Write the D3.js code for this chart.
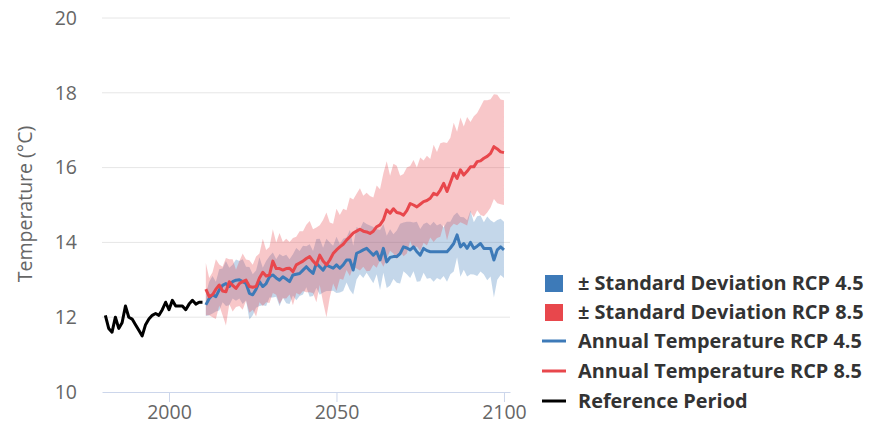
<!DOCTYPE html>
<html><head><meta charset="utf-8">
<script src="https://cdn.jsdelivr.net/npm/d3@7"></script>
<style>body{margin:0;background:#fff;}svg{display:block;font-family:"Open Sans",sans-serif;}</style>
</head><body><svg id="c" width="879" height="424"></svg>
<script>
const refStart = 1981;
const refTemps = [12.05,11.7,11.6,12.0,11.7,11.85,12.3,12.0,11.95,11.8,11.65,11.5,11.8,11.95,12.05,12.1,12.05,12.2,12.4,12.2,12.45,12.3,12.3,12.3,12.2,12.35,12.45,12.35,12.4,12.4];
const projStart = 2011;
const rcp85 = [12.75,12.55,12.6,12.75,12.86,12.7,12.68,12.95,12.85,12.77,
12.9,12.95,12.99,12.82,12.8,12.82,13.05,13.2,13.1,13.13,
13.5,13.3,13.3,13.26,13.3,13.31,13.22,13.4,13.45,13.5,
13.57,13.62,13.5,13.4,13.66,13.5,13.4,13.53,13.7,13.8,
13.88,13.95,14.06,14.15,14.25,14.3,14.35,14.3,14.28,14.24,
14.3,14.42,14.47,14.6,14.87,14.78,14.9,14.8,14.78,14.73,
14.85,15.04,15.0,14.95,15.02,15.09,15.12,15.18,15.31,15.27,
15.4,15.58,15.36,15.6,15.85,15.71,15.94,15.8,15.9,16.02,
16.02,16.16,16.18,16.25,16.3,16.38,16.56,16.5,16.42,16.4];
const rcp45 = [12.33,12.5,12.6,12.55,12.73,12.85,12.9,12.82,12.95,12.99,
13.0,12.95,12.9,12.64,12.6,12.75,12.95,12.82,12.9,13.08,
13.13,13.05,12.99,13.08,13.02,12.95,13.13,13.15,13.17,13.26,
13.35,13.25,13.17,13.44,13.35,13.26,13.4,13.35,13.31,13.4,
13.31,13.4,13.53,13.53,13.26,13.71,13.75,13.8,13.84,13.75,
13.66,13.75,13.53,13.84,13.48,13.6,13.62,13.62,13.7,13.88,
13.85,13.8,13.88,13.75,13.66,13.84,13.78,13.75,13.75,13.75,
13.75,13.75,13.75,13.85,13.97,14.2,13.88,13.97,13.84,14.0,
13.84,13.9,13.97,13.84,13.84,13.84,13.53,13.8,13.88,13.8];
const sd85 = [0.7,0.5,0.6,0.8,0.55,0.65,0.9,0.6,0.7,0.5,
0.6,0.75,0.55,0.7,0.6,0.8,0.65,0.9,0.7,0.75,
0.85,0.7,0.95,0.75,0.8,0.7,0.9,0.75,0.85,0.8,
0.9,0.95,0.85,1.0,0.8,1.1,1.4,1.0,0.8,1.1,
0.85,0.95,0.8,1.05,0.9,1.0,1.1,0.95,1.05,1.0,
0.9,1.1,0.95,1.25,1.3,1.0,1.2,1.25,1.0,1.1,
1.15,1.0,1.2,1.05,1.25,1.1,1.2,1.05,1.3,1.15,
1.25,1.1,1.3,1.2,1.35,1.25,1.4,1.3,1.45,1.2,
1.35,1.3,1.45,1.55,1.5,1.45,1.4,1.45,1.4,1.4];
const sd45 = [0.3,0.45,0.5,0.4,0.55,0.45,0.6,0.5,0.45,0.55,
0.5,0.6,0.45,0.7,0.55,0.5,0.65,0.5,0.6,0.55,
0.6,0.5,0.7,0.55,0.65,0.6,0.55,0.7,0.6,0.65,
0.55,0.7,0.6,0.65,0.75,0.6,0.7,0.65,0.6,0.75,
0.65,0.7,0.6,0.8,0.65,0.7,0.6,0.75,0.65,0.7,
0.75,0.6,0.8,0.65,0.7,0.75,0.6,0.7,0.8,0.65,
0.7,0.75,0.65,0.8,0.7,0.65,0.75,0.7,0.8,0.7,
0.75,0.65,0.8,0.7,0.75,0.6,0.8,0.7,0.75,0.85,
0.7,0.8,0.75,0.7,0.85,0.75,1.0,0.8,0.75,0.75];
const xTicks = [2000, 2050, 2100];
const yTicks = [10, 12, 14, 16, 18, 20];
const legendLabels = ["± Standard Deviation RCP 4.5","± Standard Deviation RCP 8.5","Annual Temperature RCP 4.5","Annual Temperature RCP 8.5","Reference Period"];

const blue = "#3d7ab8", red = "#e8474c";
const svg = d3.select("#c");
const x = d3.scaleLinear().domain([1980, 2101.8]).range([102, 510]);
const y = d3.scaleLinear().domain([10, 20]).range([392, 18]);

svg.append("g").selectAll("line").data(yTicks.filter(d=>d>10)).join("line")
  .attr("x1", 102).attr("x2", 510).attr("y1", d=>y(d)).attr("y2", d=>y(d))
  .attr("stroke", "#e6e6e6").attr("stroke-width", 1);

const ya = svg.append("g").attr("transform","translate(77,0)")
  .call(d3.axisLeft(y).tickValues(yTicks).tickSize(0).tickPadding(0));
ya.select(".domain").remove();
ya.selectAll("text").attr("font-size", 19.5).attr("fill", "#666").attr("font-family", "Open Sans");

const xa = svg.append("g").attr("transform","translate(0,392)")
  .call(d3.axisBottom(x).tickValues(xTicks).tickFormat(d3.format("d")).tickSize(10).tickSizeOuter(0).tickPadding(3));
xa.select(".domain").attr("stroke", "#ccd6eb");
xa.selectAll(".tick line").attr("stroke", "#ccd6eb");
xa.selectAll("text").attr("font-size", 19.5).attr("fill", "#666").attr("font-family", "Open Sans");

svg.append("text").attr("transform", "translate(25,204) rotate(-90)")
  .attr("text-anchor","middle").attr("dy","0.35em").attr("font-size", 19.5).attr("fill", "#666")
  .text("Temperature (°C)");

const projYears = rcp85.map((_, i) => projStart + i);
const area = (m, s) => d3.area().x((d,i)=>x(projYears[i])).y0((d,i)=>y(m[i]-s[i])).y1((d,i)=>y(m[i]+s[i]))(m);
svg.append("path").attr("d", area(rcp45, sd45)).attr("fill", blue).attr("fill-opacity", 0.3);
svg.append("path").attr("d", area(rcp85, sd85)).attr("fill", red).attr("fill-opacity", 0.3);

const line = d3.line().x(d=>x(d[0])).y(d=>y(d[1]));
svg.append("path").attr("d", line(rcp45.map((v,i)=>[projYears[i], v]))).attr("fill","none").attr("stroke", blue).attr("stroke-width", 3).attr("stroke-linejoin","round");
svg.append("path").attr("d", line(rcp85.map((v,i)=>[projYears[i], v]))).attr("fill","none").attr("stroke", red).attr("stroke-width", 3).attr("stroke-linejoin","round");
svg.append("path").attr("d", line(refTemps.map((v,i)=>[refStart+i, v]))).attr("fill","none").attr("stroke", "#000").attr("stroke-width", 3).attr("stroke-linejoin","round");

const lg = svg.append("g");
const rowsY = [283, 312, 341, 371, 401];
const kinds = [["rect", blue], ["rect", red], ["line", blue], ["line", red], ["line", "#000"]];
kinds.forEach((k, i) => {
  const cy = rowsY[i];
  if (k[0] === "rect") lg.append("rect").attr("x", 545).attr("y", cy-8).attr("width", 18).attr("height", 17).attr("fill", k[1]);
  else lg.append("line").attr("x1", 542).attr("x2", 566).attr("y1", cy).attr("y2", cy).attr("stroke", k[1]).attr("stroke-width", 3);
  lg.append("text").attr("x", 578).attr("y", cy).attr("dy", "0.35em").attr("font-size", 19.9).attr("font-weight", "bold").attr("fill", "#333").text(legendLabels[i]);
});
</script></body></html>
